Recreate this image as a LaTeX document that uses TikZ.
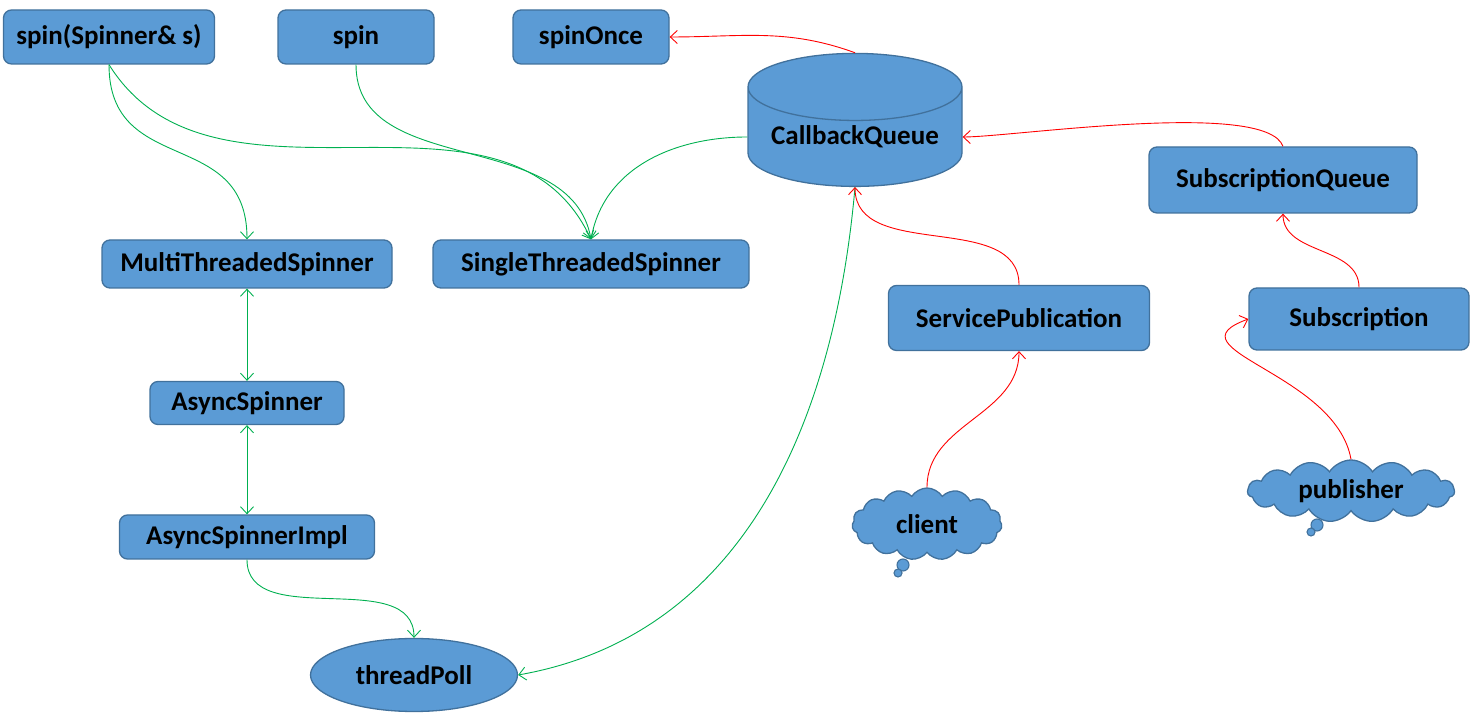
\documentclass[tikz,border=0pt]{standalone}
\usepackage{fontspec}
\setmainfont{Carlito}
\usetikzlibrary{arrows.meta,shapes.geometric,shapes.symbols}
\definecolor{boxfill}{HTML}{5B9BD5}
\definecolor{boxline}{HTML}{41719C}
\definecolor{lgreen}{HTML}{00B050}
\begin{document}
\begin{tikzpicture}[x=1pt, y=1pt, every node/.style={font=\fontsize{27}{32}\selectfont\bfseries}, box/.style={draw=boxline,fill=boxfill,line width=1.3pt,rounded corners=8pt,inner sep=0pt}, cyl/.style={cylinder,shape border rotate=90,draw=boxline,fill=boxfill,line width=1.3pt,aspect=0.4,inner sep=0pt}, ellip/.style={ellipse,draw=boxline,fill=boxfill,line width=1.3pt,inner sep=0pt}, cloudbox/.style={cloud,cloud puffs=15,cloud puff arc=115,cloud ignores aspect,draw=boxline,fill=boxfill,line width=1.3pt,inner sep=0pt}, bubble/.style={draw=boxline,fill=boxfill,line width=1.1pt}, green/.style={draw=lgreen,line width=0.9pt}, red/.style={draw=red,line width=0.9pt}, >={Straight Barb[length=7pt,width=13pt]}]
\useasboundingbox (0,0) rectangle (1474,719);
\node[box, minimum width=211pt, minimum height=54pt] (spinS) at (109,682) {spin(Spinner\& s)};
\node[box, minimum width=156pt, minimum height=54pt] (spin) at (356,682) {spin};
\node[box, minimum width=156pt, minimum height=54pt] (spinOnce) at (591,682) {spinOnce};
\node[cyl, minimum width=214pt, minimum height=133pt] (cbq) at (855,582) {CallbackQueue};
\node[box, minimum width=268pt, minimum height=66pt] (subq) at (1283,539) {SubscriptionQueue};
\node[box, minimum width=290pt, minimum height=48pt] (multi) at (247,455) {MultiThreadedSpinner};
\node[box, minimum width=316pt, minimum height=48pt] (single) at (591,455) {SingleThreadedSpinner};
\node[box, minimum width=261pt, minimum height=65pt] (srvpub) at (1019,401) {ServicePublication};
\node[box, minimum width=220pt, minimum height=62pt] (sub) at (1359,400) {Subscription};
\node[box, minimum width=194pt, minimum height=43pt] (async) at (247,316) {AsyncSpinner};
\node[box, minimum width=255pt, minimum height=44pt] (asyncimpl) at (247,182) {AsyncSpinnerImpl};
\node[ellip, minimum width=207pt, minimum height=73pt] (tpoll) at (414,44) {threadPoll};
% thought bubble tails
\draw[bubble] (903,154) circle (6);
\draw[bubble] (898,146) circle (4);
\draw[bubble] (1317,194) circle (6);
\draw[bubble] (1311,187) circle (4);
\node[cloudbox, minimum width=150pt, minimum height=72pt] (client) at (927,195) {client};
\node[cloudbox, minimum width=207pt, minimum height=62pt] (pub) at (1351,228) {publisher};
\draw[green,->] (spinS.south) to[out=-58,in=115] (single.north);
\draw[green,->] (spinS.south) to[out=-90,in=90,looseness=1.3] (multi.north);
\draw[green,->] (spin.south) to[out=-90,in=100] (single.north);
\draw[green,->] (cbq.west) to[out=180,in=80] (single.north);
\draw[green,<->] (multi.south) -- (async.north);
\draw[green,<->] (async.south) -- (asyncimpl.north);
\draw[green,->] (asyncimpl.south) to[out=-90,in=90] (tpoll.north);
\draw[green,->] (cbq.south) to[out=-95,in=10] (tpoll.east);
\draw[red,->] (cbq.north) to[out=160,in=0] (spinOnce.east);
\draw[red,->] (subq.north) to[out=110,in=0,looseness=0.4] (cbq.east);
\draw[red,->] (srvpub.north) to[out=90,in=-90] (cbq.south);
\draw[red,->] (client.north) to[out=90,in=-90] (srvpub.south);
\draw[red,->] (sub.north) to[out=90,in=-90] (subq.south);
\draw[red,->] (pub.north) to[out=100,in=200,looseness=1.3] (sub.west);
\end{tikzpicture}
\end{document}
